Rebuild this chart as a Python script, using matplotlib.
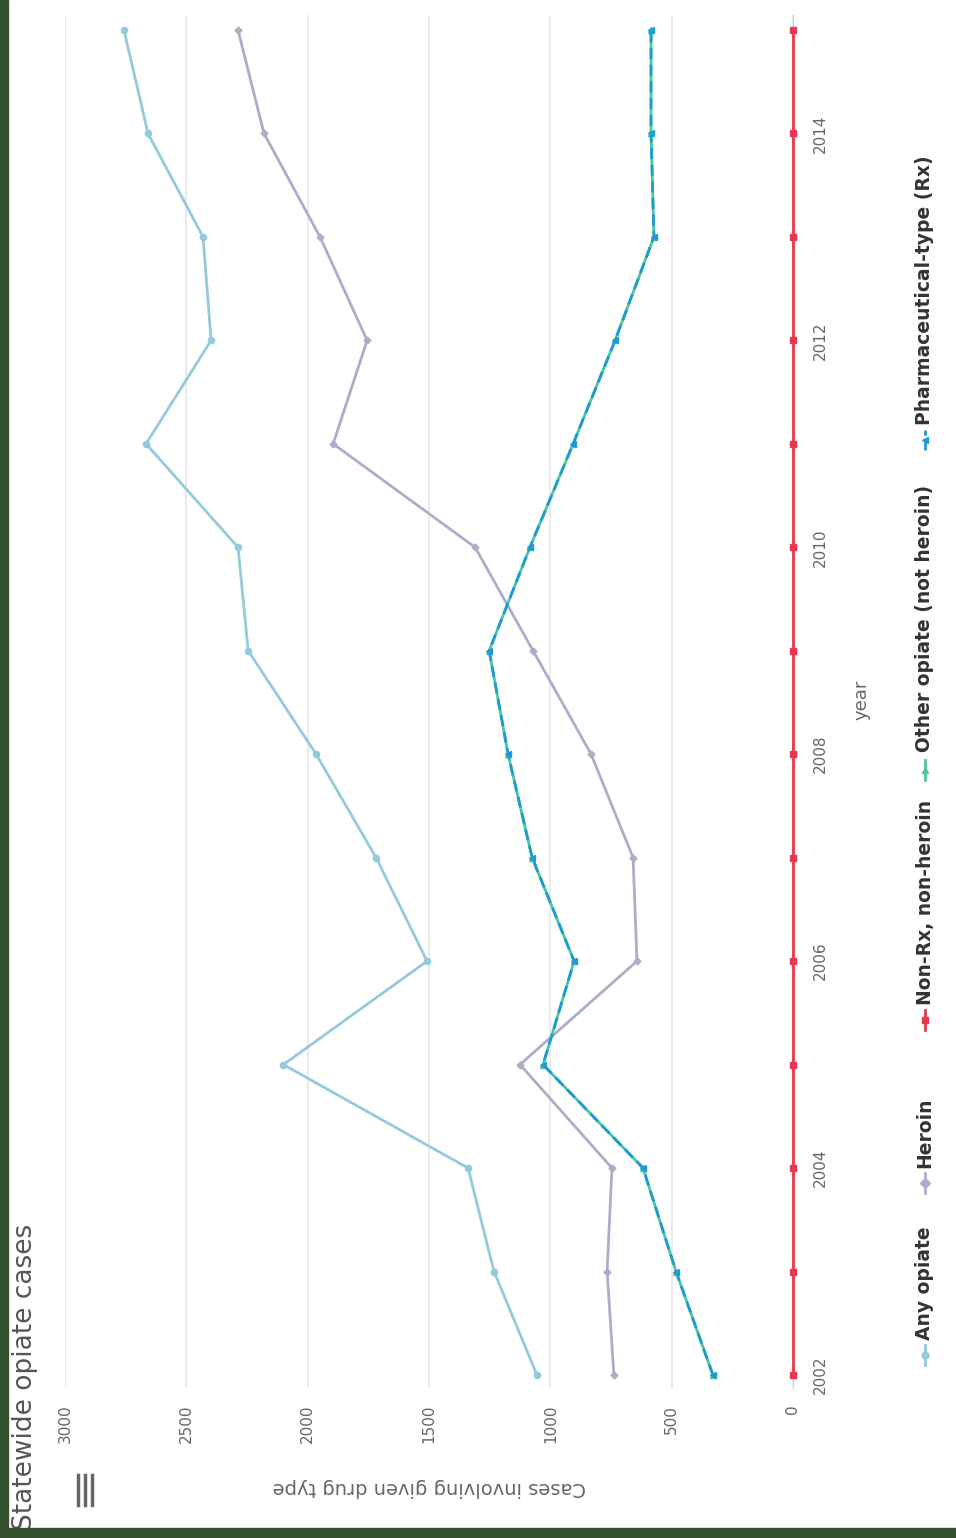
import numpy as np
import matplotlib
matplotlib.use("Agg")
import matplotlib.pyplot as plt
from matplotlib.patches import Rectangle
from matplotlib.lines import Line2D

years = [2002, 2003, 2004, 2005, 2006, 2007, 2008, 2009, 2010, 2011, 2012, 2013, 2014, 2015]
any_opiate = [1055, 1232, 1339, 2100, 1508, 1718, 1965, 2245, 2287, 2666, 2398, 2431, 2658, 2757]
heroin = [738, 766, 746, 1125, 643, 659, 832, 1071, 1310, 1895, 1755, 1949, 2180, 2287]
non_rx = [0, 0, 0, 0, 0, 0, 0, 0, 0, 0, 0, 0, 0, 0]
other_opiate = [330, 482, 618, 1030, 902, 1075, 1174, 1252, 1084, 906, 733, 573, 585, 585]
rx = [330, 482, 618, 1030, 902, 1075, 1174, 1252, 1084, 906, 733, 573, 585, 585]

value_ticks = [0, 500, 1000, 1500, 2000, 2500, 3000]
year_ticks = [2002, 2004, 2006, 2008, 2010, 2012, 2014]

series_names = ["Any opiate", "Heroin", "Non-Rx, non-heroin",
                "Other opiate (not heroin)", "Pharmaceutical-type (Rx)"]

c_any = "#93cbdc"
c_her = "#adadc9"
c_red = "#e8384f"
c_green = "#4fc59a"
c_rx = "#1e9ad6"
txt = "#666666"

W, H = 956, 1538
fig = plt.figure(figsize=(W / 100, H / 100), dpi=100)
fig.patch.set_facecolor("white")

def fx(px):
    return px / W

def fy(py):
    return 1 - py / H

# plot area (chart is drawn rotated: years go up, values go left)
ax = fig.add_axes([fx(65), fy(1388), fx(793) - fx(65), fy(15) - fy(1388)])
ax.set_facecolor("white")

ax.plot(any_opiate, years, color=c_any, lw=2, marker="o", ms=4.5, zorder=3)
ax.plot(heroin, years, color=c_her, lw=2, marker="D", ms=3.5, zorder=3)
ax.plot(other_opiate, years, color=c_green, lw=2, marker="^", ms=5, zorder=4)
ax.plot(rx, years, color=c_rx, lw=2, ls=(0, (4, 2)), marker="<", ms=5, zorder=5)
ax.plot(non_rx, years, color=c_red, lw=2, marker="s", ms=5, zorder=6, clip_on=False)

ax.set_xlim(3000, 0)
ax.set_ylim(2001.874, 2015.145)

ax.set_xticks(value_ticks)
ax.set_xticklabels([str(v) for v in value_ticks], rotation=90, color=txt, fontsize=11)
ax.xaxis.grid(True, color="#e6e6e6", lw=1.2)
ax.set_axisbelow(True)

ax.yaxis.tick_right()
ax.set_yticks(year_ticks)
ax.set_yticklabels([str(y) for y in year_ticks], rotation=90, color=txt,
                   fontsize=11, va="center")
ax.tick_params(axis="both", length=0)
ax.tick_params(axis="x", pad=12)
ax.tick_params(axis="y", pad=14)

for s in ["top", "left", "bottom"]:
    ax.spines[s].set_visible(False)
ax.spines["right"].set_color("#ccd6eb")

# axis titles
fig.text(fx(429), fy(1488), "Cases involving given drug type", rotation=180,
         ha="center", va="center", color=txt, fontsize=14)
fig.text(fx(862), fy(700), "year", rotation=90, ha="center", va="center",
         color=txt, fontsize=13)

# chart title
fig.text(fx(25), fy(1530), "Statewide opiate cases", rotation=90, ha="center",
         va="bottom", color="#555555", fontsize=19)

# menu icon
for xx in [78, 85, 92]:
    fig.add_artist(Line2D([fx(xx), fx(xx)], [fy(1475), fy(1505)], color="#666666", lw=2.5))

# legend, drawn by hand because it is rotated
leg_items = [
    (series_names[0], c_any, "o", "-", 1355, 1340),
    (series_names[1], c_her, "D", "-", 1183, 1168),
    (series_names[2], c_red, "s", "-", 1020, 1005),
    (series_names[3], c_green, "^", "-", 770, 752),
    (series_names[4], c_rx, "<", "--", 440, 425),
]
for name, col, mk, ls, sym_y, txt_y in leg_items:
    fig.add_artist(Line2D([fx(925), fx(925)], [fy(sym_y + 10), fy(sym_y - 10)],
                          color=col, lw=2, ls=ls))
    fig.add_artist(Line2D([fx(925)], [fy(sym_y)], color=col, marker=mk, ms=5, lw=0))
    fig.text(fx(925), fy(txt_y), name, rotation=90, ha="center", va="bottom",
             color="#333333", fontsize=13.5, fontweight="bold")

# dark border on the left and bottom of the screenshot
fig.add_artist(Rectangle((0, 0), fx(8), 1, transform=fig.transFigure,
                         color="#34502f", zorder=10))
fig.add_artist(Rectangle((0, 0), 1, 10 / H, transform=fig.transFigure,
                         color="#34502f", zorder=10))

fig.savefig("out.png", dpi=100)
